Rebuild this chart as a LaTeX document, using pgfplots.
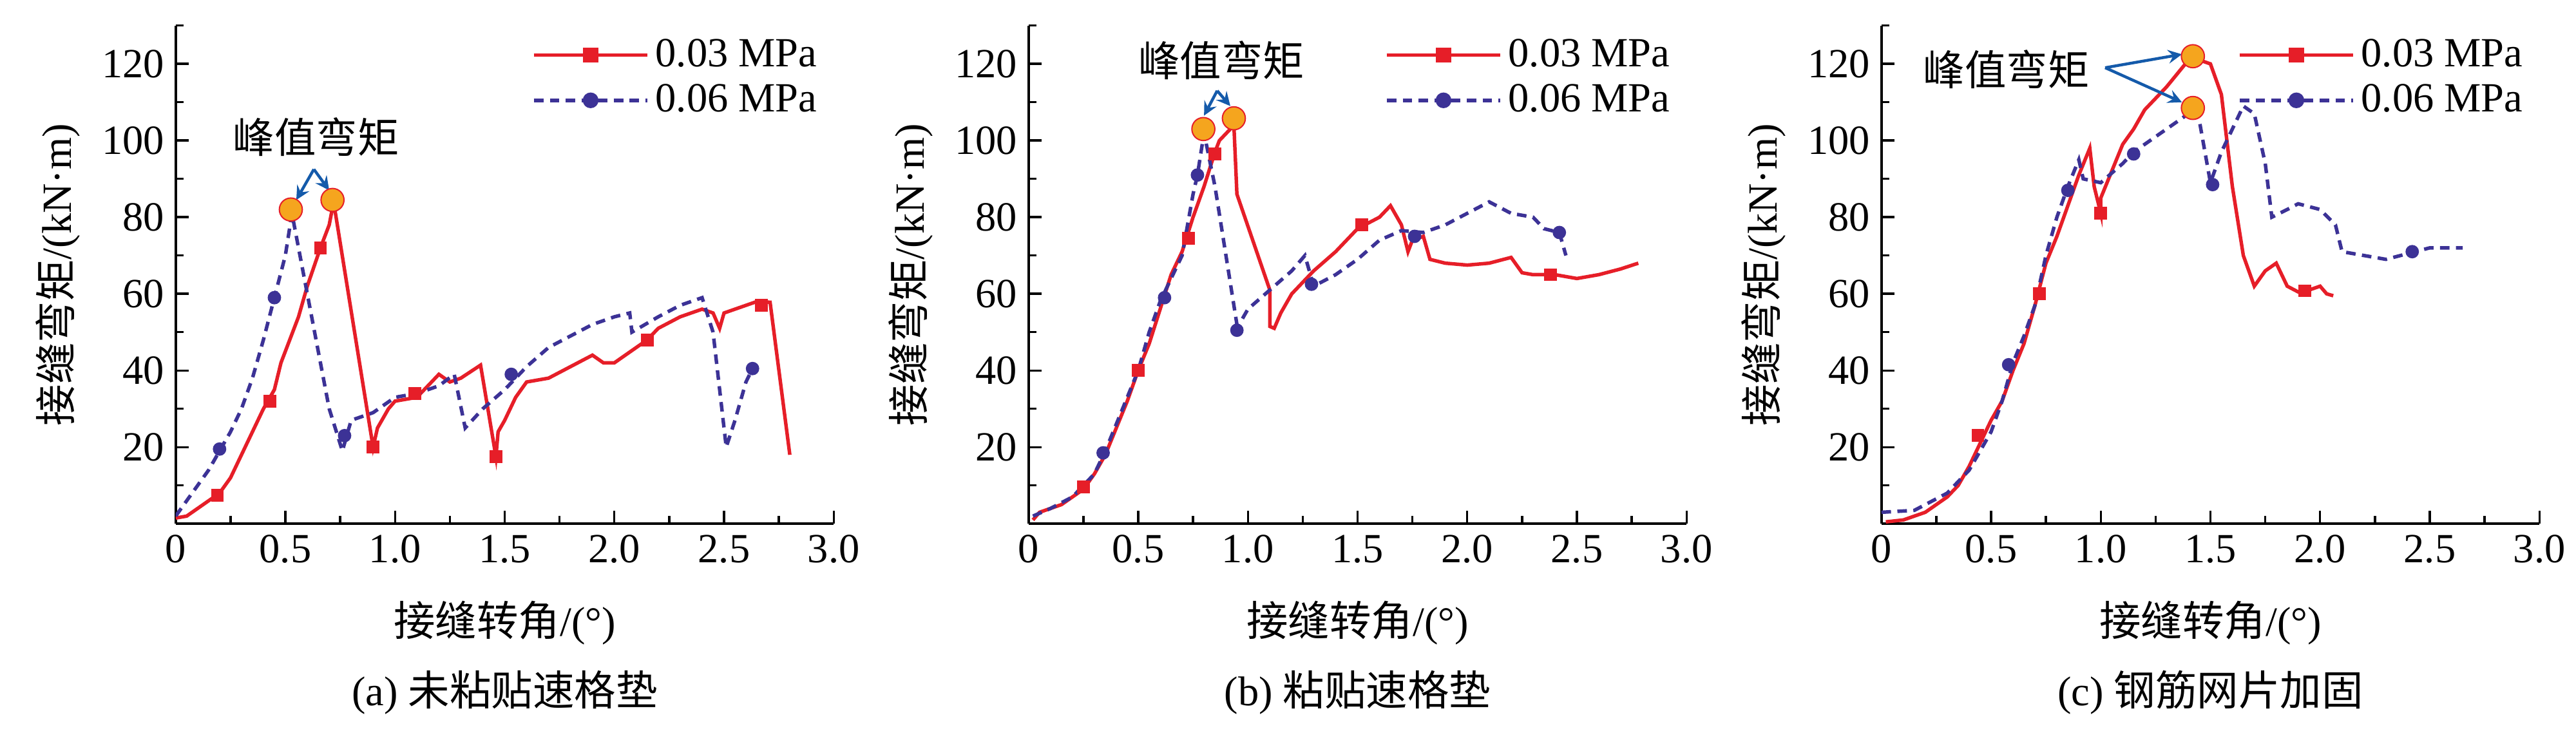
\documentclass[border=0pt]{standalone}
\usepackage{fontspec}
\setmainfont{Liberation Serif}
\newfontfamily\cjk{Noto Sans CJK SC}
\usepackage{pgfplots}
\pgfplotsset{compat=1.18}
\definecolor{cred}{RGB}{230,30,40}
\definecolor{cblue}{RGB}{60,50,150}
\definecolor{carrow}{RGB}{20,90,170}
\definecolor{corange}{RGB}{245,165,30}
\pgfplotsset{
  myax/.style={
    scale only axis, width=206pt, height=156pt,
    xmin=0, xmax=3, ymin=0, ymax=130,
    axis lines=left, axis line style={-, line width=0.8pt},
    xtick={0,0.5,1,1.5,2,2.5,3}, xticklabels={0,0.5,1.0,1.5,2.0,2.5,3.0},
    minor xtick={0.25,0.75,1.25,1.75,2.25,2.75},
    ytick={20,40,60,80,100,120}, minor ytick={10,30,50,70,90,110,130},
    tick align=inside, major tick length=4pt, minor tick length=2.5pt,
    tick style={black, line width=0.7pt},
    ticklabel style={font=\fontsize{13}{15}\selectfont},
    /pgf/number format/assume math mode=true,
    xlabel={{\cjk 接缝转角}/(°)}, ylabel={{\cjk 接缝弯矩}/(kN·m)},
    label style={font=\fontsize{13}{15}\selectfont},
    xlabel style={yshift=-5pt},
    legend style={draw=none, fill=none, at={(1.0,1.0)}, anchor=north east,
      font=\fontsize{13}{15}\selectfont, row sep=0pt},
    legend cell align=left,
    legend image code/.code={
      \draw[#1,mark=none] (0cm,0cm) -- (1.25cm,0cm);
      \draw[#1,solid] plot coordinates {(0.625cm,0cm)};},
  },
  rl/.style={cred, line width=1.1pt, mark=none},
  bl/.style={cblue, line width=1.1pt, dashed, dash pattern=on 3pt off 2pt, mark=none},
  rm/.style={only marks, cred, mark=square*, mark size=1.8pt},
  bm/.style={only marks, cblue, mark=*, mark size=1.9pt},
  pk/.style={only marks, mark=*, mark size=3.6pt, mark options={fill=corange, draw=cred, line width=0.4pt}},
}
\begin{document}
\begin{tikzpicture}
\path (0,0) rectangle (800pt,228.8pt);
% ---------- (a)
\begin{axis}[myax, at={(55pt,64.8pt)}, anchor=south west]
\addlegendimage{cred, line width=1.1pt, mark=square*, mark size=1.8pt}
\addlegendentry{0.03 MPa}
\addlegendimage{cblue, line width=1.1pt, dash pattern=on 3pt off 2pt, mark=*, mark size=1.9pt, mark options={solid}}
\addlegendentry{0.06 MPa}
\addplot[rl, forget plot] coordinates {(0,1.5)(0.05,2)(0.1,4)(0.15,6)(0.2,8)(0.25,12)(0.3,18)(0.35,24)(0.4,30)(0.45,35)(0.48,42)(0.52,48)(0.56,54)(0.6,62)(0.66,72)(0.7,78)(0.72,84)(0.9,20)(0.92,25)(0.97,30)(1.0,32)(1.1,33)(1.15,36)(1.2,39)(1.25,37)(1.3,38)(1.39,41.4)(1.46,17.5)(1.47,24)(1.5,27)(1.55,33)(1.6,37)(1.7,38)(1.8,41)(1.9,44)(1.95,42)(2.0,42)(2.1,46)(2.15,48)(2.2,51)(2.3,54)(2.4,56)(2.45,55)(2.48,51)(2.5,55)(2.6,57)(2.65,58)(2.71,57.8)(2.8,18)};
\addplot[bl, forget plot] coordinates {(0,2)(0.05,6)(0.15,14)(0.2,19)(0.25,24)(0.3,30)(0.35,38)(0.4,48)(0.45,59)(0.5,70)(0.53,81)(0.6,60)(0.65,45)(0.7,30)(0.76,19)(0.78,23)(0.8,27)(0.9,29)(1.0,33)(1.1,34)(1.2,36)(1.27,39)(1.32,25)(1.4,30)(1.5,35)(1.6,41)(1.7,46)(1.8,49)(1.9,52)(2.0,54)(2.07,55)(2.08,50)(2.2,54)(2.3,57)(2.4,59)(2.45,50)(2.51,20)(2.55,27)(2.6,37)(2.63,40.5)};
\addplot[rm, forget plot] coordinates {(0.19,7.5)(0.43,32)(0.66,72)(0.9,20)(1.09,34)(1.46,17.5)(2.15,48)(2.67,57)};
\addplot[bm, forget plot] coordinates {(0.2,19.5)(0.45,59)(0.77,23)(1.53,39)(2.63,40.5)};
\addplot[pk, forget plot] coordinates {(0.525,82)(0.715,84.5)};
\draw[carrow, line width=0.9pt, -stealth] (axis cs:0.63,92.5) -- (axis cs:0.55,84.5);
\draw[carrow, line width=0.9pt, -stealth] (axis cs:0.63,92.5) -- (axis cs:0.70,87);
\node[font=\cjk\fontsize{13}{15}\selectfont] at (axis cs:0.64,101) {峰值弯矩};
\end{axis}
\node[font=\fontsize{13}{15}\selectfont] at (158pt,12pt) {(a) {\cjk 未粘贴速格垫}};
% ---------- (b)
\begin{axis}[myax, at={(322pt,64.8pt)}, anchor=south west]
\addlegendimage{cred, line width=1.1pt, mark=square*, mark size=1.8pt}
\addlegendentry{0.03 MPa}
\addlegendimage{cblue, line width=1.1pt, dash pattern=on 3pt off 2pt, mark=*, mark size=1.9pt, mark options={solid}}
\addlegendentry{0.06 MPa}
\addplot[rl, forget plot] coordinates {(0.02,1)(0.05,3)(0.15,5)(0.2,7)(0.25,9)(0.3,13)(0.35,18)(0.4,25)(0.45,32)(0.5,40)(0.55,47)(0.6,56)(0.65,65)(0.7,71)(0.75,80)(0.8,88)(0.85,97)(0.87,100)(0.92,103)(0.935,105.5)(0.95,86)(1.1,61)(1.1,51.5)(1.12,51)(1.15,55)(1.2,60)(1.3,66)(1.4,71)(1.5,77)(1.6,80)(1.65,83)(1.7,78)(1.73,71)(1.75,74)(1.8,75)(1.83,69)(1.9,68)(2.0,67.5)(2.1,68)(2.2,69.5)(2.25,65.5)(2.3,65)(2.4,65)(2.5,64)(2.6,65)(2.7,66.5)(2.78,68)};
\addplot[bl, forget plot] coordinates {(0.02,2)(0.1,4)(0.2,7)(0.3,13)(0.35,19)(0.4,26)(0.5,40)(0.55,50)(0.6,58)(0.65,64)(0.7,70)(0.75,86)(0.77,91)(0.8,102)(0.85,88)(0.9,70)(0.95,52)(0.97,53)(1.0,56)(1.1,61)(1.2,66)(1.26,70)(1.3,62)(1.4,65)(1.5,69)(1.6,74)(1.7,76.5)(1.8,76)(1.9,78)(2.0,81)(2.1,84)(2.2,81)(2.3,80)(2.35,77)(2.42,76)(2.45,70)};
\addplot[rm, forget plot] coordinates {(0.25,9.6)(0.5,40)(0.73,74.5)(0.85,96.5)(1.52,78)(2.38,65)};
\addplot[bm, forget plot] coordinates {(0.34,18.5)(0.62,59)(0.77,91)(0.95,50.5)(1.29,62.5)(1.76,75)(2.42,76)};
\addplot[pk, forget plot] coordinates {(0.797,103)(0.936,105.8)};
\draw[carrow, line width=0.9pt, -stealth] (axis cs:0.86,113) -- (axis cs:0.8,106.5);
\draw[carrow, line width=0.9pt, -stealth] (axis cs:0.86,113) -- (axis cs:0.92,109);
\node[font=\cjk\fontsize{13}{15}\selectfont] at (axis cs:0.88,121) {峰值弯矩};
\end{axis}
\node[font=\fontsize{13}{15}\selectfont] at (425pt,12pt) {(b) {\cjk 粘贴速格垫}};
% ---------- (c)
\begin{axis}[myax, at={(589pt,64.8pt)}, anchor=south west]
\addlegendimage{cred, line width=1.1pt, mark=square*, mark size=1.8pt}
\addlegendentry{0.03 MPa}
\addlegendimage{cblue, line width=1.1pt, dash pattern=on 3pt off 2pt, mark=*, mark size=1.9pt, mark options={solid}}
\addlegendentry{0.06 MPa}
\addplot[rl, forget plot] coordinates {(0.02,0.5)(0.1,1)(0.2,3)(0.3,7)(0.35,10)(0.4,15)(0.45,21)(0.5,27)(0.55,32)(0.6,40)(0.65,47)(0.7,57)(0.75,68)(0.8,75)(0.85,83)(0.9,91)(0.95,98)(0.97,88)(1.0,81)(1.0,85)(1.05,92)(1.1,99)(1.15,103)(1.2,108)(1.25,111)(1.3,114)(1.4,121)(1.42,122)(1.45,121)(1.5,120)(1.55,112)(1.6,88)(1.65,70)(1.7,62)(1.75,66)(1.8,68)(1.85,62)(1.9,60.5)(1.95,61)(2.0,62)(2.03,60)(2.06,59.5)};
\addplot[bl, forget plot] coordinates {(0,3)(0.15,3.5)(0.2,5)(0.3,8)(0.4,14)(0.5,24)(0.55,32)(0.6,42)(0.65,49)(0.7,57)(0.75,70)(0.8,80)(0.85,88)(0.9,95)(0.92,90)(1.0,89)(1.1,94)(1.15,97)(1.2,99)(1.3,103)(1.4,107)(1.42,108.5)(1.45,105)(1.5,89)(1.55,97)(1.6,103)(1.65,109)(1.7,107)(1.75,94)(1.78,80)(1.85,82)(1.9,83.5)(2.0,82)(2.07,78)(2.1,71)(2.2,70)(2.3,69)(2.4,70.5)(2.5,72)(2.65,72)};
\addplot[rm, forget plot] coordinates {(0.44,23)(0.72,60)(1.0,81)(1.93,60.8)};
\addplot[bm, forget plot] coordinates {(0.58,41.5)(0.85,87)(1.15,96.5)(1.51,88.5)(2.42,71)};
\addplot[pk, forget plot] coordinates {(1.42,122)(1.42,108.5)};
\draw[carrow, line width=0.9pt, -stealth] (axis cs:1.02,119) -- (axis cs:1.37,122.5);
\draw[carrow, line width=0.9pt, -stealth] (axis cs:1.02,119) -- (axis cs:1.37,110);
\node[font=\cjk\fontsize{13}{15}\selectfont] at (axis cs:0.57,118.5) {峰值弯矩};
\end{axis}
\node[font=\fontsize{13}{15}\selectfont] at (692pt,12pt) {(c) {\cjk 钢筋网片加固}};
\end{tikzpicture}
\end{document}
